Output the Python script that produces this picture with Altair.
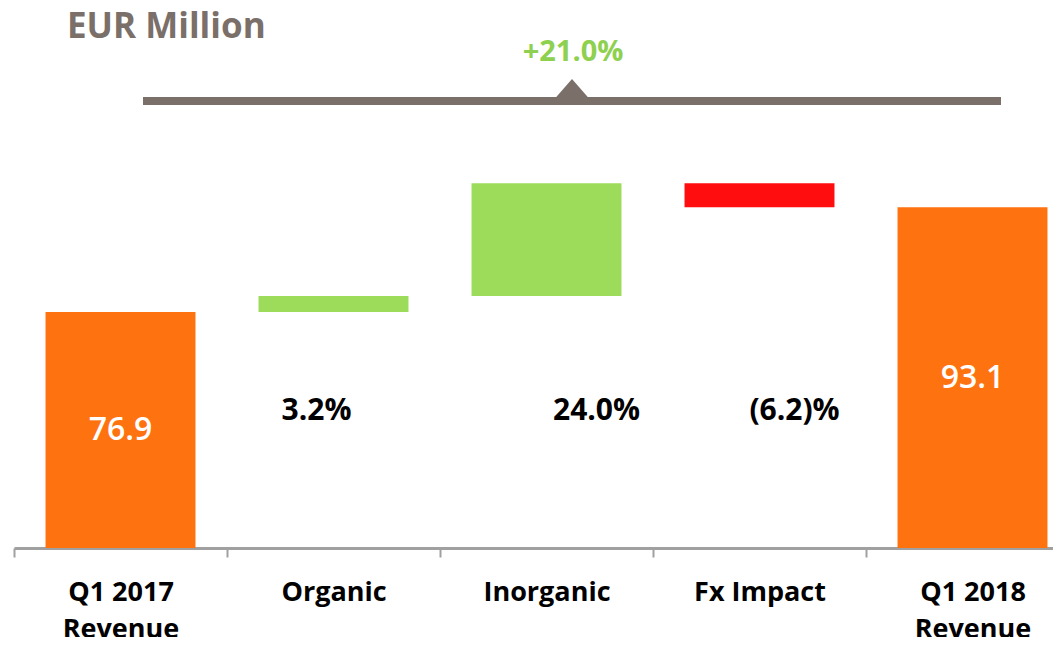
import altair as alt
import pandas as pd

# ---- data ----
categories = ["Q1 2017 Revenue", "Organic", "Inorganic", "Fx Impact", "Q1 2018 Revenue"]
kinds = ["total", "up", "up", "down", "total"]
start_revenue = 76.9
changes = [2.5, 17.4, -3.7]          # Organic, Inorganic, Fx Impact (EUR m)
end_revenue = 93.1
pct_labels = ["", "3.2%", "24.0%", "(6.2)%", ""]
value_labels = ["76.9", "", "", "", "93.1"]
growth_label = "+21.0%"
title_text = "EUR Million"

# ---- styling ----
FONT = "Open Sans"
ORANGE = "#FF7210"
GREEN = "#9CDC5A"
RED = "#FF0D0F"
BROWN = "#7B6F69"
LABEL_GREEN = "#8ED04F"
Y_FLOOR = 40.5
Y_TOP = 123.83
PCT_LEVEL = 61.6
pct_dx = {"Organic": -17, "Inorganic": 50, "Fx Impact": 35}

# build waterfall table
rows = []
running = start_revenue
rows.append(dict(cat=categories[0], kind=kinds[0], lo=Y_FLOOR, hi=start_revenue,
                 pct=pct_labels[0], val=value_labels[0]))
for i, ch in enumerate(changes, start=1):
    lo, hi = running, running + ch
    rows.append(dict(cat=categories[i], kind=kinds[i], lo=min(lo, hi), hi=max(lo, hi),
                     pct=pct_labels[i], val=value_labels[i]))
    running += ch
rows.append(dict(cat=categories[4], kind=kinds[4], lo=Y_FLOOR, hi=end_revenue,
                 pct=pct_labels[4], val=value_labels[4]))
df = pd.DataFrame(rows)
df["mid"] = (df["lo"] + df["hi"]) / 2
df["pctY"] = PCT_LEVEL

# the category axis runs past the right edge of the picture, as in the reference
xscale = alt.Scale(domain=categories, range=[0, 1065], paddingInner=0, paddingOuter=0)
yscale = alt.Scale(domain=[Y_FLOOR, Y_TOP], nice=False, zero=False)

label_expr = ("indexof(datum.label, ' Revenue') > 0 ? "
              "[replace(datum.label, ' Revenue', ''), 'Revenue'] : datum.label")

x_enc = alt.X("cat:N", scale=xscale, sort=categories, title=None,
              axis=alt.Axis(labelExpr=label_expr, labelAngle=0, tickBand="extent"))

base = alt.Chart(df)

bars = base.mark_bar(clip=True, width=alt.RelativeBandSize(0.704)).encode(
    x=x_enc,
    y=alt.Y("lo:Q", scale=yscale, axis=None),
    y2="hi:Q",
    color=alt.Color("kind:N",
                    scale=alt.Scale(domain=["total", "up", "down"], range=[ORANGE, GREEN, RED]),
                    legend=None),
)

value_text = base.transform_filter("datum.val != ''").mark_text(
    font=FONT, fontSize=32, fontWeight=600, color="white", baseline="middle"
).encode(x=alt.X("cat:N", scale=xscale, sort=categories), y=alt.Y("mid:Q", scale=yscale), text="val:N")

pct_layers = []
for cat, dx in pct_dx.items():
    pct_layers.append(
        base.transform_filter(alt.datum.cat == cat).mark_text(
            font=FONT, fontSize=30, fontWeight="bold", color="black", baseline="middle", dx=dx
        ).encode(x=alt.X("cat:N", scale=xscale, sort=categories),
                 y=alt.Y("pctY:Q", scale=yscale), text="pct:N")
    )

one = alt.Chart(pd.DataFrame({"t": [title_text], "g": [growth_label]}))

title = one.mark_text(font=FONT, fontSize=35, fontWeight="bold", color=BROWN,
                      align="left", baseline="middle").encode(
    x=alt.value(53), y=alt.value(19), text="t:N")

growth = one.mark_text(font=FONT, fontSize=29, fontWeight="bold", color=LABEL_GREEN,
                       align="center", baseline="middle").encode(
    x=alt.value(559), y=alt.value(44), text="g:N")

bracket = one.mark_rule(color=BROWN, strokeWidth=8).encode(
    x=alt.value(129), x2=alt.value(987), y=alt.value(93))

tri = one.mark_point(shape="M-1,0.571L0,-0.571L1,0.571Z", filled=True, opacity=1,
                     size=1225, color=BROWN).encode(x=alt.value(558), y=alt.value(81))

chart = alt.layer(bars, value_text, *pct_layers, bracket, tri, title, growth).properties(
    width=1039, height=540,
    autosize=alt.AutoSizeParams(type="none"),
    padding={"left": 6, "top": 0, "right": 0, "bottom": 89},
).configure_view(stroke=None).configure_axis(
    grid=False,
    domainColor="#A0A0A0", domainWidth=3,
    tickColor="#A0A0A0", tickWidth=2, tickSize=9,
    labelFont=FONT, labelFontSize=27, labelFontWeight="bold", labelColor="black",
    labelPadding=22, labelLineHeight=37,
)

chart.save("out.html", embed_options={"renderer": "svg", "actions": False})
